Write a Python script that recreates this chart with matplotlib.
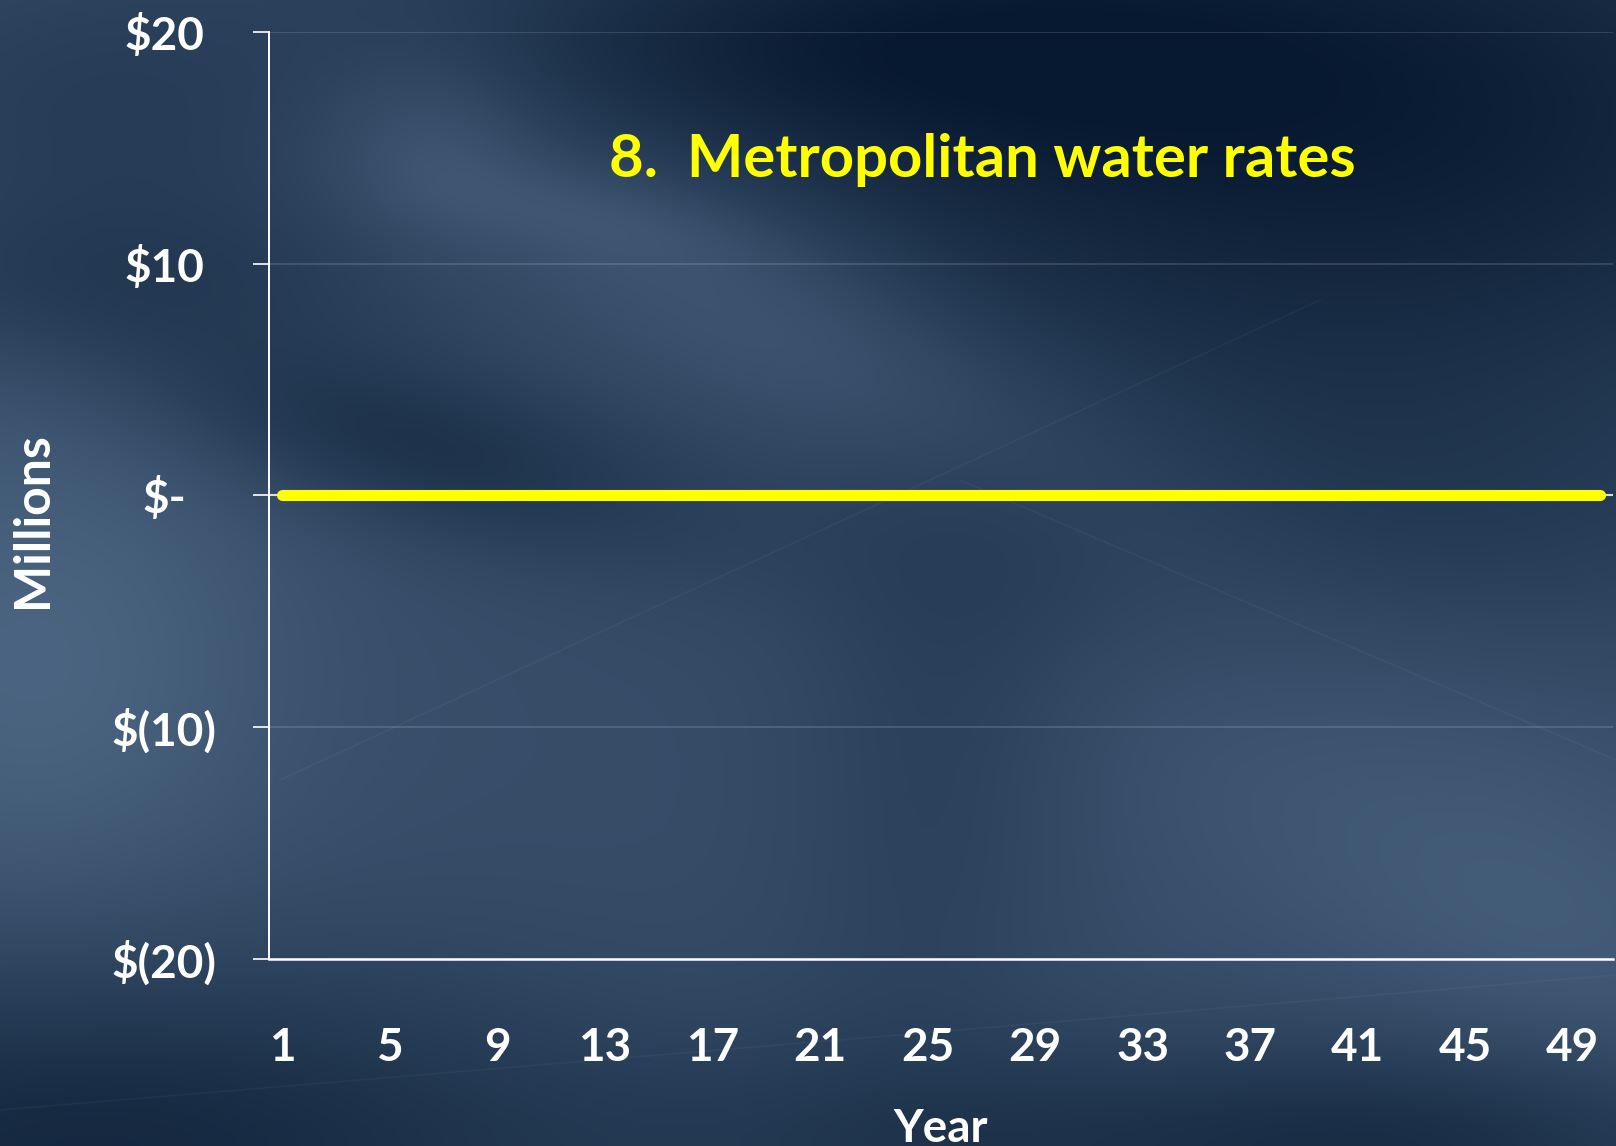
import numpy as np
import matplotlib
matplotlib.use("Agg")
import matplotlib.pyplot as plt
from matplotlib.ticker import FuncFormatter, FixedLocator

# Net cash flow by year (millions) for scenario 8
years = np.arange(1, 51)
net_flow = np.zeros(50)
year_ticks = [1, 5, 9, 13, 17, 21, 25, 29, 33, 37, 41, 45, 49]
y_ticks = [-20, -10, 0, 10, 20]
title = "8.  Metropolitan water rates"

plt.rcParams['font.family'] = ['Lato', 'DejaVu Sans']
plt.rcParams['font.weight'] = 'bold'

W, H = 1616, 1146
fig = plt.figure(figsize=(W / 100, H / 100), dpi=100)


def soft_blob(xx, yy, cx, cy, sx, sy, ang, amp):
    a = np.deg2rad(ang)
    dx, dy = xx - cx, yy - cy
    u = dx * np.cos(a) + dy * np.sin(a)
    v = -dx * np.sin(a) + dy * np.cos(a)
    return amp * np.exp(-0.5 * ((u / sx) ** 2 + (v / sy) ** 2))


# smoky navy backdrop
yy, xx = np.mgrid[0:H:4, 0:W:4].astype(float)
t = np.full(xx.shape, 0.53)
# lighter smoke
t += soft_blob(xx, yy, 800, 330, 320, 75, 25, 0.20)
t += soft_blob(xx, yy, 430, 140, 70, 70, 0, 0.12)
t += soft_blob(xx, yy, 600, 215, 120, 30, 10, 0.08)
t += soft_blob(xx, yy, 30, 660, 170, 180, 0, 0.22)
t += soft_blob(xx, yy, 1270, 780, 200, 110, 20, 0.06)
t += soft_blob(xx, yy, 1560, 930, 180, 120, 30, 0.12)
# darker patches
t -= soft_blob(xx, yy, 1350, 120, 460, 230, 0, 0.48)
t -= soft_blob(xx, yy, 820, 40, 300, 90, 0, 0.26)
t -= soft_blob(xx, yy, 100, 110, 200, 120, 0, 0.16)
t -= soft_blob(xx, yy, 120, 280, 220, 60, 0, 0.14)
t -= soft_blob(xx, yy, 400, 440, 200, 60, 15, 0.26)
t -= soft_blob(xx, yy, 940, 760, 110, 260, 5, 0.12)
t -= soft_blob(xx, yy, 1350, 520, 320, 100, 0, 0.12)
t -= soft_blob(xx, yy, 80, 1146, 380, 130, 0, 0.38)
t -= soft_blob(xx, yy, 1050, 1146, 320, 70, 0, 0.20)
t -= soft_blob(xx, yy, 1480, 1146, 250, 80, 0, 0.24)
t = np.clip(t, 0, 1)
dark = np.array([0.03, 0.10, 0.19])
light = np.array([0.38, 0.49, 0.61])
bg = dark + t[..., None] * (light - dark)

bg_ax = fig.add_axes([0, 0, 1, 1], zorder=-10)
bg_ax.imshow(bg, extent=[0, W, H, 0], interpolation='bilinear', aspect='auto')
# faint light streaks
for (x0, y0, x1, y1) in [(280, 780, 1320, 300), (960, 480, 1616, 760), (0, 1110, 1616, 975)]:
    bg_ax.plot([x0, x1], [y0, y1], color='white', alpha=0.035, lw=1.2)
bg_ax.set_xlim(0, W)
bg_ax.set_ylim(H, 0)
bg_ax.axis('off')

ax = fig.add_axes([269 / W, 1 - 959 / H, (1613 - 269) / W, (959 - 31.7) / H])
ax.set_facecolor('none')

ax.yaxis.grid(True, color='white', alpha=0.16, lw=1.2)
ax.set_axisbelow(True)
ax.axhline(0, color='white', lw=1.5, alpha=0.8, zorder=1)
ax.plot(years, net_flow, color='#ffff00', lw=8, solid_capstyle='round', zorder=3)

ax.set_xlim(0.5, 50.5)
ax.set_ylim(-20, 20)
ax.xaxis.set_major_locator(FixedLocator(year_ticks))
ax.yaxis.set_major_locator(FixedLocator(y_ticks))


def money(v, pos):
    if v == 0:
        return "$-"
    if v < 0:
        return f"$({abs(v):.0f})"
    return f"${v:.0f}"


ax.yaxis.set_major_formatter(FuncFormatter(money))
ax.tick_params(axis='y', colors='white', length=11.5, width=1.2, pad=64, labelsize=33)
ax.tick_params(axis='x', colors='white', length=0, pad=49, labelsize=33)
for lab in ax.get_yticklabels():
    lab.set_horizontalalignment('center')

for side in ['top', 'right']:
    ax.spines[side].set_visible(False)
ax.spines['left'].set_color('white')
ax.spines['left'].set_linewidth(1.4)
ax.spines['bottom'].set_color('white')
ax.spines['bottom'].set_linewidth(1.8)

ax.set_xlabel("Year", color='white', fontsize=33, fontweight='bold', labelpad=28)
fig.text(33 / W, 1 - 520 / H, "Millions", color='white', fontsize=36,
         fontweight='bold', rotation=90, ha='center', va='center')

ax.text(0.531, 0.862, title, transform=ax.transAxes, color='#ffff00',
        fontsize=43, fontweight='bold', ha='center', va='center')

fig.savefig("out.png", dpi=100)
